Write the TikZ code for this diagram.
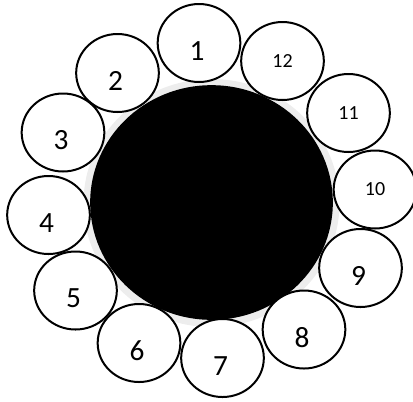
\documentclass[tikz,border=0pt]{standalone}
\usepackage{fontspec}
\setmainfont{Carlito}
\usetikzlibrary{shapes.geometric}

\begin{document}
\begin{tikzpicture}[
    x=0.75pt, y=-0.75pt,
    seat/.style={draw, ellipse, line width=1.5pt, fill=white, minimum width=62pt, minimum height=58.5pt, inner sep=0pt},
    num/.style={font=\fontsize{22}{26}\selectfont, inner sep=0pt},
    smallnum/.style={font=\fontsize{15}{18}\selectfont}
]
\useasboundingbox (0,0) rectangle (413,401);

% table with its shadow
\node[ellipse, fill=black!7, minimum width=192pt, minimum height=186pt] (halo) at (211.5,203) {};
\node[ellipse, fill=black, minimum width=182pt, minimum height=176pt] (table) at (211.5,202.5) {};

% seats 1 to 9
\foreach \n/\x/\y in {1/199/43, 2/117.5/73, 3/63/132.5, 4/48.5/215, 5/75.5/290.5,
                       6/139/343, 7/222.5/358, 8/304/329.5, 9/360.5/268} {
    \node[seat] (s\n) at (\x,\y) {};
    \node[num] (n\n) at ([xshift=-1.5pt,yshift=-6pt]s\n.center) {\n};
}

% seats 10 to 12
\node[seat, smallnum] (s10) at (375,189.5) {10};
\node[seat, smallnum] (s11) at (348.5,113) {11};
\node[seat, smallnum] (s12) at (282.5,61) {12};

\end{tikzpicture}
\end{document}
